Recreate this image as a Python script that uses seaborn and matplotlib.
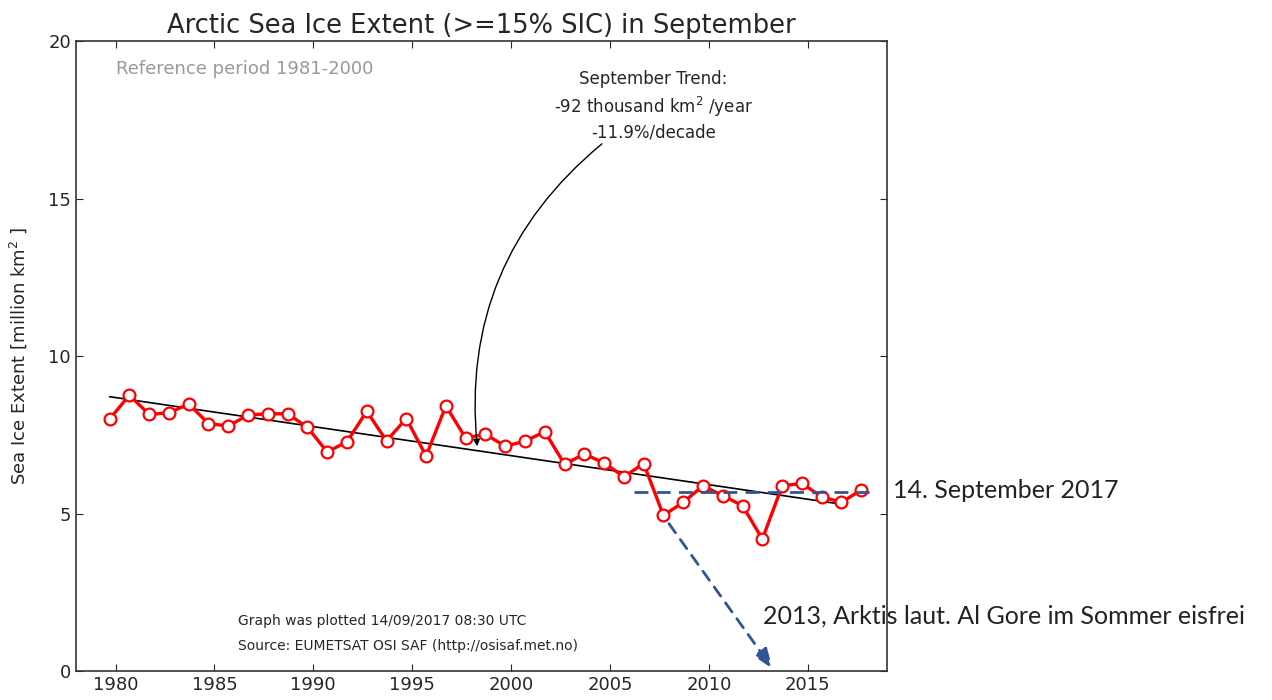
import numpy as np
import pandas as pd
import seaborn as sns
import matplotlib.pyplot as plt

# September sea ice extent (million km2)
years = list(range(1979, 2018))
extent = [8.00, 8.76, 8.15, 8.20, 8.48, 7.86, 7.78, 8.13, 8.17, 8.17,
          7.74, 6.96, 7.28, 8.25, 7.31, 8.02, 6.83, 8.42, 7.40, 7.52,
          7.14, 7.30, 7.60, 6.57, 6.89, 6.61, 6.17, 6.59, 4.94, 5.36,
          5.88, 5.57, 5.25, 4.19, 5.88, 5.96, 5.53, 5.36, 5.75]

# blue annotation lines (level of 14 Sept 2017, Gore arrow)
level_years = [2006.2, 2018.1]
level_value = 5.67
gore_from = (2007.9, 4.75)
gore_to = (2013.3, 0.0)

df = pd.DataFrame({'year': years, 'extent': extent})
df['x'] = df['year'] + 0.7  # plotted at mid-September

sns.set_style('ticks')
plt.rcParams['font.family'] = ['DejaVu Sans']
plt.rcParams['xtick.direction'] = 'in'
plt.rcParams['ytick.direction'] = 'in'

fig = plt.figure(figsize=(12.72, 7.0), dpi=100)
ax = fig.add_axes([0.0597, 0.0414, 0.6376, 0.8996])

# trend line (fit through 2016)
trend = df[df['year'] <= 2016]
sns.regplot(data=trend, x='x', y='extent', scatter=False, ci=None, truncate=True,
            color='black', line_kws={'linewidth': 1.2}, ax=ax)

sns.lineplot(data=df, x='x', y='extent', color='red', linewidth=2.4,
             marker='o', markersize=8.5, markerfacecolor='white',
             markeredgecolor='red', markeredgewidth=1.6, ax=ax)

blue = '#2f5597'
ax.plot(level_years, [level_value, level_value], color=blue, linewidth=2,
        linestyle=(0, (5, 3)))
ax.annotate('', xy=gore_to, xytext=gore_from,
            arrowprops=dict(arrowstyle='-|>,head_length=1.2,head_width=0.45',
                            color=blue, linewidth=2, linestyle=(0, (4, 3))))

ax.set_xlim(1978, 2019)
ax.set_ylim(0, 20)
ax.set_xticks(range(1980, 2016, 5))
ax.set_yticks([0, 5, 10, 15, 20])
ax.tick_params(labelsize=13, top=True, right=True, length=5, width=0.8)
for s in ax.spines.values():
    s.set_linewidth(1.2)
    s.set_color('#333333')
ax.set_xlabel('')
ax.set_ylabel('Sea Ice Extent [million km$^2$ ]', fontsize=13, labelpad=14)
ax.set_title('Arctic Sea Ice Extent (>=15% SIC) in September', fontsize=18.5, pad=6)

ax.text(0.05, 0.97, 'Reference period 1981-2000', transform=ax.transAxes,
        color='#999999', fontsize=13, ha='left', va='top')

ax.text(2007.2, 17.95, 'September Trend:\n-92 thousand km$^2$ /year\n-11.9%/decade',
        ha='center', va='center', fontsize=12, linespacing=1.35)
ax.annotate('', xy=(1998.3, 7.05), xytext=(2004.7, 16.8),
            arrowprops=dict(arrowstyle='-|>', color='black', linewidth=1,
                            connectionstyle='arc3,rad=0.27'))

ax.text(0.2, 0.079, 'Graph was plotted 14/09/2017 08:30 UTC', transform=ax.transAxes,
        fontsize=10, ha='left', va='center')
ax.text(0.2, 0.040, 'Source: EUMETSAT OSI SAF (http://osisaf.met.no)', transform=ax.transAxes,
        fontsize=10, ha='left', va='center')

fig.text(893 / 1272, 1 - 491 / 700, '14. September 2017', fontsize=18,
         family=['Lato', 'DejaVu Sans'], ha='left', va='center', color='#222222')
fig.text(763 / 1272, 1 - 616 / 700, '2013, Arktis laut. Al Gore im Sommer eisfrei',
         fontsize=18, family=['Lato', 'DejaVu Sans'], ha='left', va='center',
         color='#222222')

fig.savefig('out.png', dpi=100)
